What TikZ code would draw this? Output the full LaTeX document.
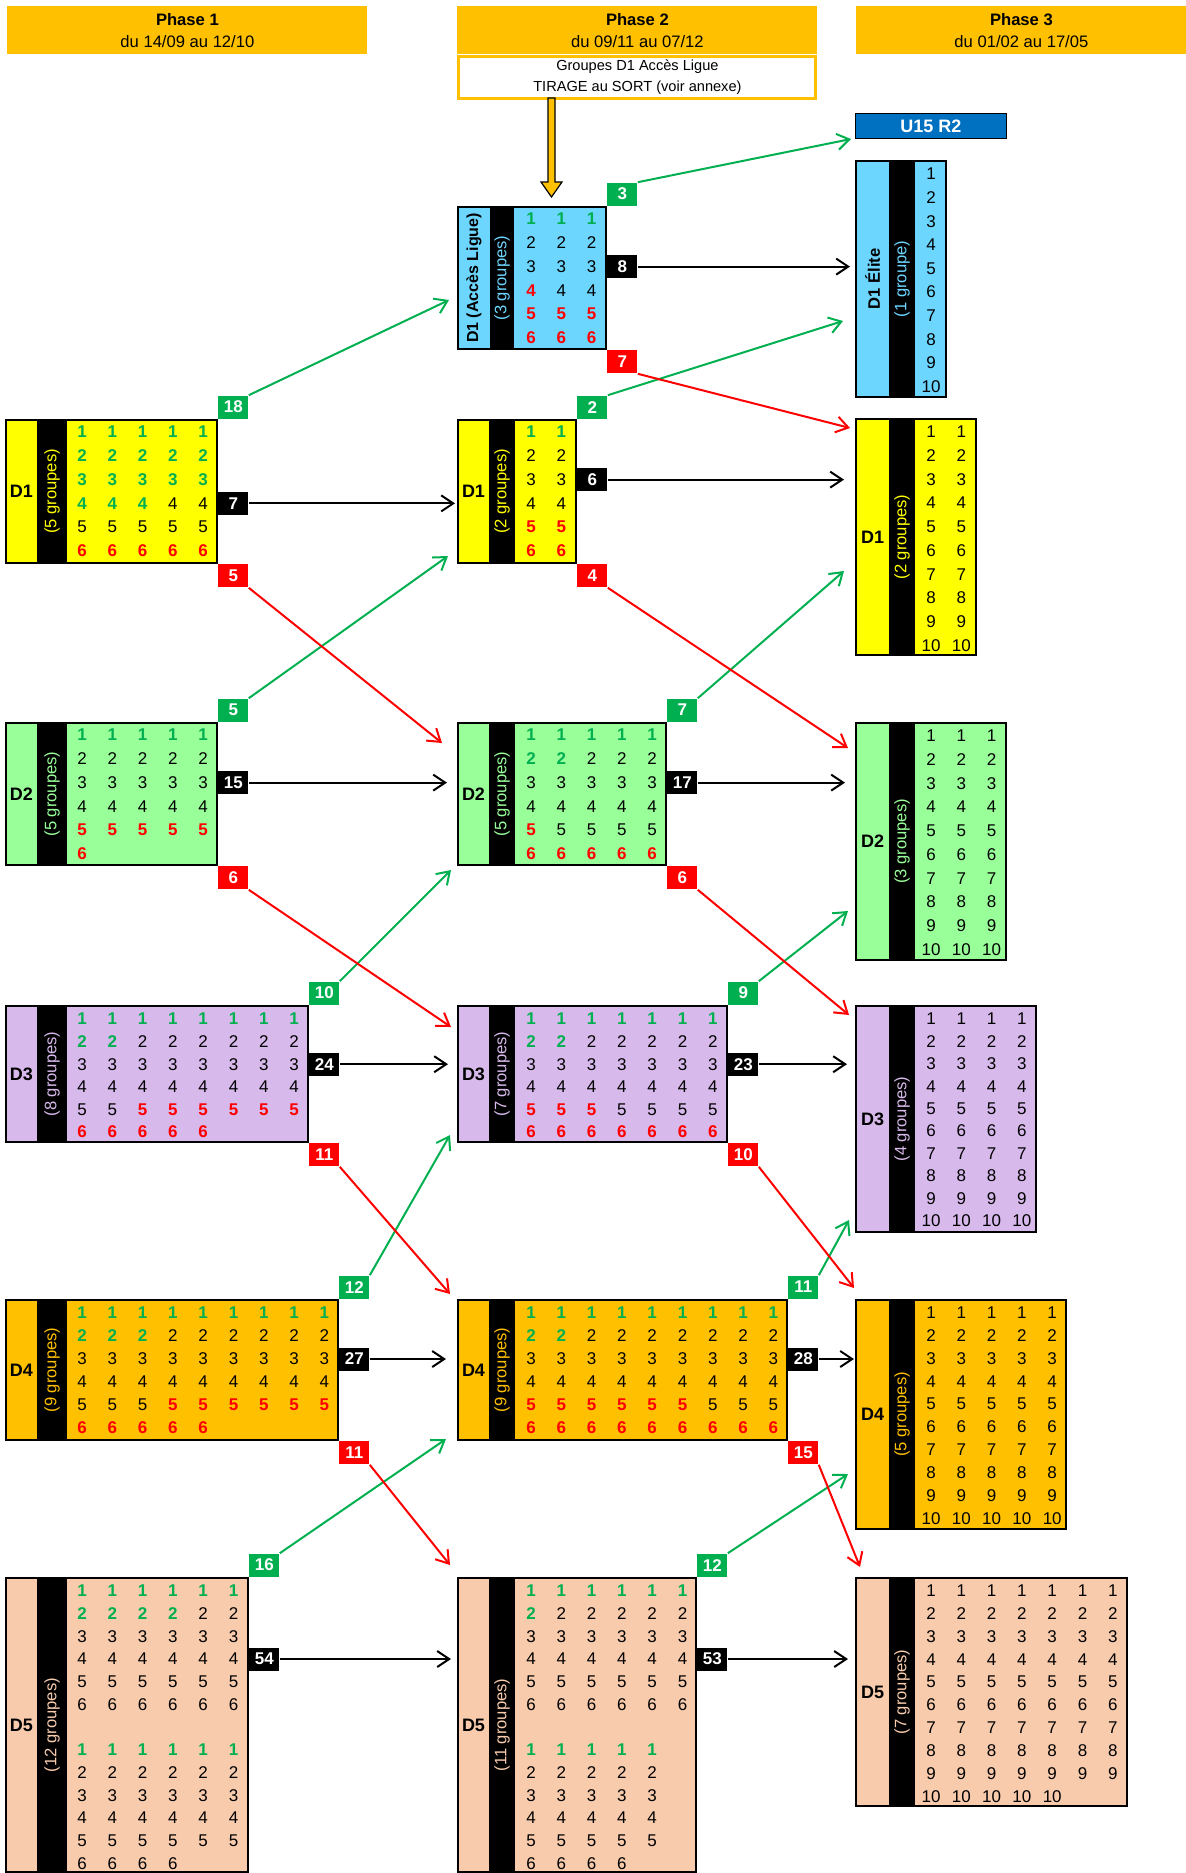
\documentclass[tikz,border=0pt]{standalone}
\usepackage{fontspec}
\setmainfont{Liberation Sans}
\usetikzlibrary{
    arrows.meta,  % Straight Barb tips
    fit,          % Boxes fitted to corners
    calc          % Coordinate calculations
}

\definecolor{G}{HTML}{00B050}
\definecolor{R}{HTML}{FF0000}
\colorlet{K}{black}
\definecolor{gold}{HTML}{FFC000}
\definecolor{lemon}{HTML}{FFFF00}
\definecolor{mint}{HTML}{99FF99}
\definecolor{lilac}{HTML}{D8B9EB}
\definecolor{peach}{HTML}{F8CBAD}
\definecolor{sky}{HTML}{6DD6FF}
\definecolor{navy}{HTML}{0070C0}

% fonts of the numbers by colour
\newcommand\cfG{\bfseries}
\newcommand\cfR{\bfseries}
\newcommand\cfK{}

\tikzset{
    grpbox/.style={draw, line width=1pt, inner sep=0pt},
    bartext/.style={rotate=90, font=\fontsize{8.3}{10}\selectfont},
    grplabel/.style={font=\bfseries\fontsize{9}{11}\selectfont},
    cell/.style={inner sep=0pt},
    numtag/.style={fill=#1, text=white, font=\bfseries\fontsize{8.5}{10}\selectfont,
        minimum width=15pt, minimum height=11.5pt, inner sep=0pt},
    arr/.style={draw=#1, line width=1pt, -{Straight Barb[length=6pt,width=8pt]}},
    hdr/.style={fill=gold, inner sep=0pt, align=center, anchor=north west,
        minimum height=24pt, font=\fontsize{8.3}{11}\selectfont}
}

% name, left, label right, bar right, right, top, bottom, colour, count
\newcommand\grp[9]{%
    \node[grpbox, fill=#8, fit={(#2,#6) (#5,#7)}] (#1) {};
    \fill (#3,#6) rectangle (#4,#7);
    \node[bartext, text=#8] (#1-n) at ({(#3+#4)/2},{(#6+#7)/2}) {#9};
    \coordinate (#1-lab) at ({(#2+#3)/2},{(#6+#7)/2});
}

% name, first x, first y, row step, colours row by row
\newcommand\cells[5]{%
    \foreach \rowspec [count=\rowno] in {#5} {
        \foreach \cc [count=\colno] in \rowspec {
            \node[cell, text=\cc, font=\fontsize{8.5}{10}\selectfont\csname cf\cc\endcsname]
                (#1-\rowno-\colno) at ({#2+(\colno-1)*30.3},{#3+(\rowno-1)*#4}) {\rowno};
        }
    }
}

\begin{document}
\begin{tikzpicture}[x=0.5pt,y=-0.5pt]
    \useasboundingbox (0,0) rectangle (1186,1873);

    % headers
    \node[hdr, minimum width=180pt] (ph1) at (7,6) {\textbf{Phase 1}\\du 14/09 au 12/10};
    \node[hdr, minimum width=180pt] (ph2) at (457,6) {\textbf{Phase 2}\\du 09/11 au 07/12};
    \node[hdr, minimum width=165pt] (ph3) at (856,6) {\textbf{Phase 3}\\du 01/02 au 17/05};
    \node[draw=gold, line width=1.5pt, fill=white, anchor=north, align=center,
        minimum width=178.5pt, minimum height=21pt, inner sep=0pt,
        font=\fontsize{7.3}{10.5}\selectfont] (tirage) at (ph2.south)
        {Groupes D1 Accès Ligue\\TIRAGE au SORT (voir annexe)};
    \draw[fill=gold, line width=0.6pt] (548,98) -- (555,98) -- (555,182) -- (562,182)
        -- (551.5,197) -- (541,182) -- (548,182) -- cycle;
    \node[fill=navy, draw, text=white, anchor=north west, inner sep=0pt,
        minimum width=75.5pt, minimum height=12.5pt,
        font=\bfseries\fontsize{9}{11}\selectfont] (u15) at (855,113) {U15 R2};

    % Phase 1
    \grp{p1d1}{6}{37}{67}{217}{420}{563}{lemon}{(5 groupes)}
    \cells{p1d1}{82}{432}{23.8}{{G,G,G,G,G},{G,G,G,G,G},{G,G,G,G,G},{G,G,G,K,K},{K,K,K,K,K},{R,R,R,R,R}}
    \node[grplabel] (p1d1-t) at (p1d1-lab) {D1};

    \grp{p1d2}{6}{37}{67}{217}{723}{865}{mint}{(5 groupes)}
    \cells{p1d2}{82}{735}{23.8}{{G,G,G,G,G},{K,K,K,K,K},{K,K,K,K,K},{K,K,K,K,K},{R,R,R,R,R},{R}}
    \node[grplabel] (p1d2-t) at (p1d2-lab) {D2};

    \grp{p1d3}{6}{37}{67}{308}{1006}{1142}{lilac}{(8 groupes)}
    \cells{p1d3}{82}{1019}{22.6}{{G,G,G,G,G,G,G,G},{G,G,K,K,K,K,K,K},{K,K,K,K,K,K,K,K},{K,K,K,K,K,K,K,K},{K,K,R,R,R,R,R,R},{R,R,R,R,R}}
    \node[grplabel] (p1d3-t) at (p1d3-lab) {D3};

    \grp{p1d4}{6}{37}{67}{338}{1300}{1440}{gold}{(9 groupes)}
    \cells{p1d4}{82}{1313}{23}{{G,G,G,G,G,G,G,G,G},{G,G,G,K,K,K,K,K,K},{K,K,K,K,K,K,K,K,K},{K,K,K,K,K,K,K,K,K},{K,K,K,R,R,R,R,R,R},{R,R,R,R,R}}
    \node[grplabel] (p1d4-t) at (p1d4-lab) {D4};

    \grp{p1d5}{6}{37}{67}{248}{1578}{1872}{peach}{(12 groupes)}
    \cells{p1d5}{82}{1591}{22.67}{{G,G,G,G,G,G},{G,G,G,G,K,K},{K,K,K,K,K,K},{K,K,K,K,K,K},{K,K,K,K,K,K},{K,K,K,K,K,K}}
    \cells{p1d5b}{82}{1750}{22.67}{{G,G,G,G,G,G},{K,K,K,K,K,K},{K,K,K,K,K,K},{K,K,K,K,K,K},{K,K,K,K,K,K},{K,K,K,K}}
    \node[grplabel] (p1d5-t) at (p1d5-lab) {D5};

    % Phase 2
    \grp{p2d1a}{458}{490}{514}{606}{207}{349}{sky}{(3 groupes)}
    \cells{p2d1a}{531}{219}{23.8}{{G,G,G},{K,K,K},{K,K,K},{R,K,K},{R,R,R},{R,R,R}}
    \node[grplabel, rotate=90, font=\bfseries\fontsize{8}{10}\selectfont] (p2d1a-t) at (p2d1a-lab) {D1 (Accès Ligue)};

    \grp{p2d1}{458}{489}{515}{576}{420}{563}{lemon}{(2 groupes)}
    \cells{p2d1}{531}{432}{23.8}{{G,G},{K,K},{K,K},{K,K},{R,R},{R,R}}
    \node[grplabel] (p2d1-t) at (p2d1-lab) {D1};

    \grp{p2d2}{458}{489}{515}{666}{723}{865}{mint}{(5 groupes)}
    \cells{p2d2}{531}{735}{23.8}{{G,G,G,G,G},{G,G,K,K,K},{K,K,K,K,K},{K,K,K,K,K},{R,K,K,K,K},{R,R,R,R,R}}
    \node[grplabel] (p2d2-t) at (p2d2-lab) {D2};

    \grp{p2d3}{458}{489}{515}{727}{1006}{1142}{lilac}{(7 groupes)}
    \cells{p2d3}{531}{1019}{22.6}{{G,G,G,G,G,G,G},{G,G,K,K,K,K,K},{K,K,K,K,K,K,K},{K,K,K,K,K,K,K},{R,R,R,K,K,K,K},{R,R,R,R,R,R,R}}
    \node[grplabel] (p2d3-t) at (p2d3-lab) {D3};

    \grp{p2d4}{458}{489}{515}{787}{1300}{1440}{gold}{(9 groupes)}
    \cells{p2d4}{531}{1313}{23}{{G,G,G,G,G,G,G,G,G},{G,G,K,K,K,K,K,K,K},{K,K,K,K,K,K,K,K,K},{K,K,K,K,K,K,K,K,K},{R,R,R,R,R,R,K,K,K},{R,R,R,R,R,R,R,R,R}}
    \node[grplabel] (p2d4-t) at (p2d4-lab) {D4};

    \grp{p2d5}{458}{489}{515}{696}{1578}{1872}{peach}{(11 groupes)}
    \cells{p2d5}{531}{1591}{22.67}{{G,G,G,G,G,G},{G,K,K,K,K,K},{K,K,K,K,K,K},{K,K,K,K,K,K},{K,K,K,K,K,K},{K,K,K,K,K,K}}
    \cells{p2d5b}{531}{1750}{22.67}{{G,G,G,G,G},{K,K,K,K,K},{K,K,K,K,K},{K,K,K,K,K},{K,K,K,K,K},{K,K,K,K}}
    \node[grplabel] (p2d5-t) at (p2d5-lab) {D5};

    % Phase 3
    \grp{p3d1e}{856}{889}{915}{946}{161}{397}{sky}{(1 groupe)}
    \cells{p3d1e}{931}{174}{23.6}{K,K,K,K,K,K,K,K,K,K}
    \node[grplabel, rotate=90, font=\bfseries\fontsize{8.3}{10}\selectfont] (p3d1e-t) at (p3d1e-lab) {D1 Élite};

    \grp{p3d1}{856}{889}{915}{976}{419}{655}{lemon}{(2 groupes)}
    \cells{p3d1}{931}{432}{23.7}{{K,K},{K,K},{K,K},{K,K},{K,K},{K,K},{K,K},{K,K},{K,K},{K,K}}
    \node[grplabel] (p3d1-t) at (p3d1-lab) {D1};

    \grp{p3d2}{856}{889}{915}{1006}{723}{960}{mint}{(3 groupes)}
    \cells{p3d2}{931}{736}{23.7}{{K,K,K},{K,K,K},{K,K,K},{K,K,K},{K,K,K},{K,K,K},{K,K,K},{K,K,K},{K,K,K},{K,K,K}}
    \node[grplabel] (p3d2-t) at (p3d2-lab) {D2};

    \grp{p3d3}{856}{889}{915}{1036}{1006}{1232}{lilac}{(4 groupes)}
    \cells{p3d3}{931}{1019}{22.4}{{K,K,K,K},{K,K,K,K},{K,K,K,K},{K,K,K,K},{K,K,K,K},{K,K,K,K},{K,K,K,K},{K,K,K,K},{K,K,K,K},{K,K,K,K}}
    \node[grplabel] (p3d3-t) at (p3d3-lab) {D3};

    \grp{p3d4}{856}{889}{915}{1066}{1300}{1529}{gold}{(5 groupes)}
    \cells{p3d4}{931}{1313}{22.8}{{K,K,K,K,K},{K,K,K,K,K},{K,K,K,K,K},{K,K,K,K,K},{K,K,K,K,K},{K,K,K,K,K},{K,K,K,K,K},{K,K,K,K,K},{K,K,K,K,K},{K,K,K,K,K}}
    \node[grplabel] (p3d4-t) at (p3d4-lab) {D4};

    \grp{p3d5}{856}{889}{915}{1127}{1578}{1806}{peach}{(7 groupes)}
    \cells{p3d5}{931}{1591}{22.8}{{K,K,K,K,K,K,K},{K,K,K,K,K,K,K},{K,K,K,K,K,K,K},{K,K,K,K,K,K,K},{K,K,K,K,K,K,K},{K,K,K,K,K,K,K},{K,K,K,K,K,K,K},{K,K,K,K,K,K,K},{K,K,K,K,K,K,K},{K,K,K,K,K}}
    \node[grplabel] (p3d5-t) at (p3d5-lab) {D5};

    % counts beside the groups
    \foreach \g/\n in {p1d1/18, p1d2/5, p1d3/10, p1d4/12, p1d5/16, p2d1a/3, p2d1/2, p2d2/7, p2d3/9, p2d4/11, p2d5/12}
        \node[numtag=G, anchor=south west] (\g-up) at (\g.north east) {\n};
    \foreach \g/\n/\r in {p1d1/7/4, p1d2/15/3, p1d3/24/3, p1d4/27/3, p1d5/54/4, p2d1a/8/3, p2d1/6/3, p2d2/17/3, p2d3/23/3, p2d4/28/3, p2d5/53/4}
        \node[numtag=K, anchor=west] (\g-mid) at (\g.east |- \g-\r-1) {\n};
    \foreach \g/\n in {p1d1/5, p1d2/6, p1d3/11, p1d4/11, p2d1a/7, p2d1/4, p2d2/6, p2d3/10, p2d4/15}
        \node[numtag=R, anchor=north west] (\g-dn) at (\g.south east) {\n};

    % arrow ends
    \foreach \g/\px/\py in {p1d1/449/300, p1d2/448/556, p1d3/451/870, p1d4/450/1135, p1d5/446/1439,
            p2d1a/851/139, p2d1/843/321, p2d2/844/571, p2d3/848/911, p2d4/849/1220, p2d5/848/1474}
        \coordinate (e-\g-up) at (\px,\py);
    \foreach \g/\px in {p1d1/455, p1d2/447, p1d3/448, p1d4/446, p1d5/451,
            p2d1a/850, p2d1/844, p2d2/845, p2d3/847, p2d4/854, p2d5/848}
        \coordinate (e-\g-mid) at (\g-mid.east -| \px,0);
    \foreach \g/\px/\py in {p1d1/442/743, p1d2/451/1027, p1d3/450/1294, p1d4/450/1565,
            p2d1a/850/428, p2d1/848/748, p2d2/849/1015, p2d3/854/1288, p2d4/860/1567}
        \coordinate (e-\g-dn) at (\px,\py);

    % arrows
    \foreach \g in {p1d1, p1d2, p1d3, p1d4, p1d5, p2d1a, p2d1, p2d2, p2d3, p2d4, p2d5} {
        \draw[arr=G] (\g-up.north east) -- (e-\g-up);
        \draw[arr=K] (\g-mid.east) -- (e-\g-mid);
    }
    \foreach \g in {p1d1, p1d2, p1d3, p1d4, p2d1a, p2d1, p2d2, p2d3, p2d4}
        \draw[arr=R] (\g-dn.south east) -- (e-\g-dn);
\end{tikzpicture}
\end{document}
